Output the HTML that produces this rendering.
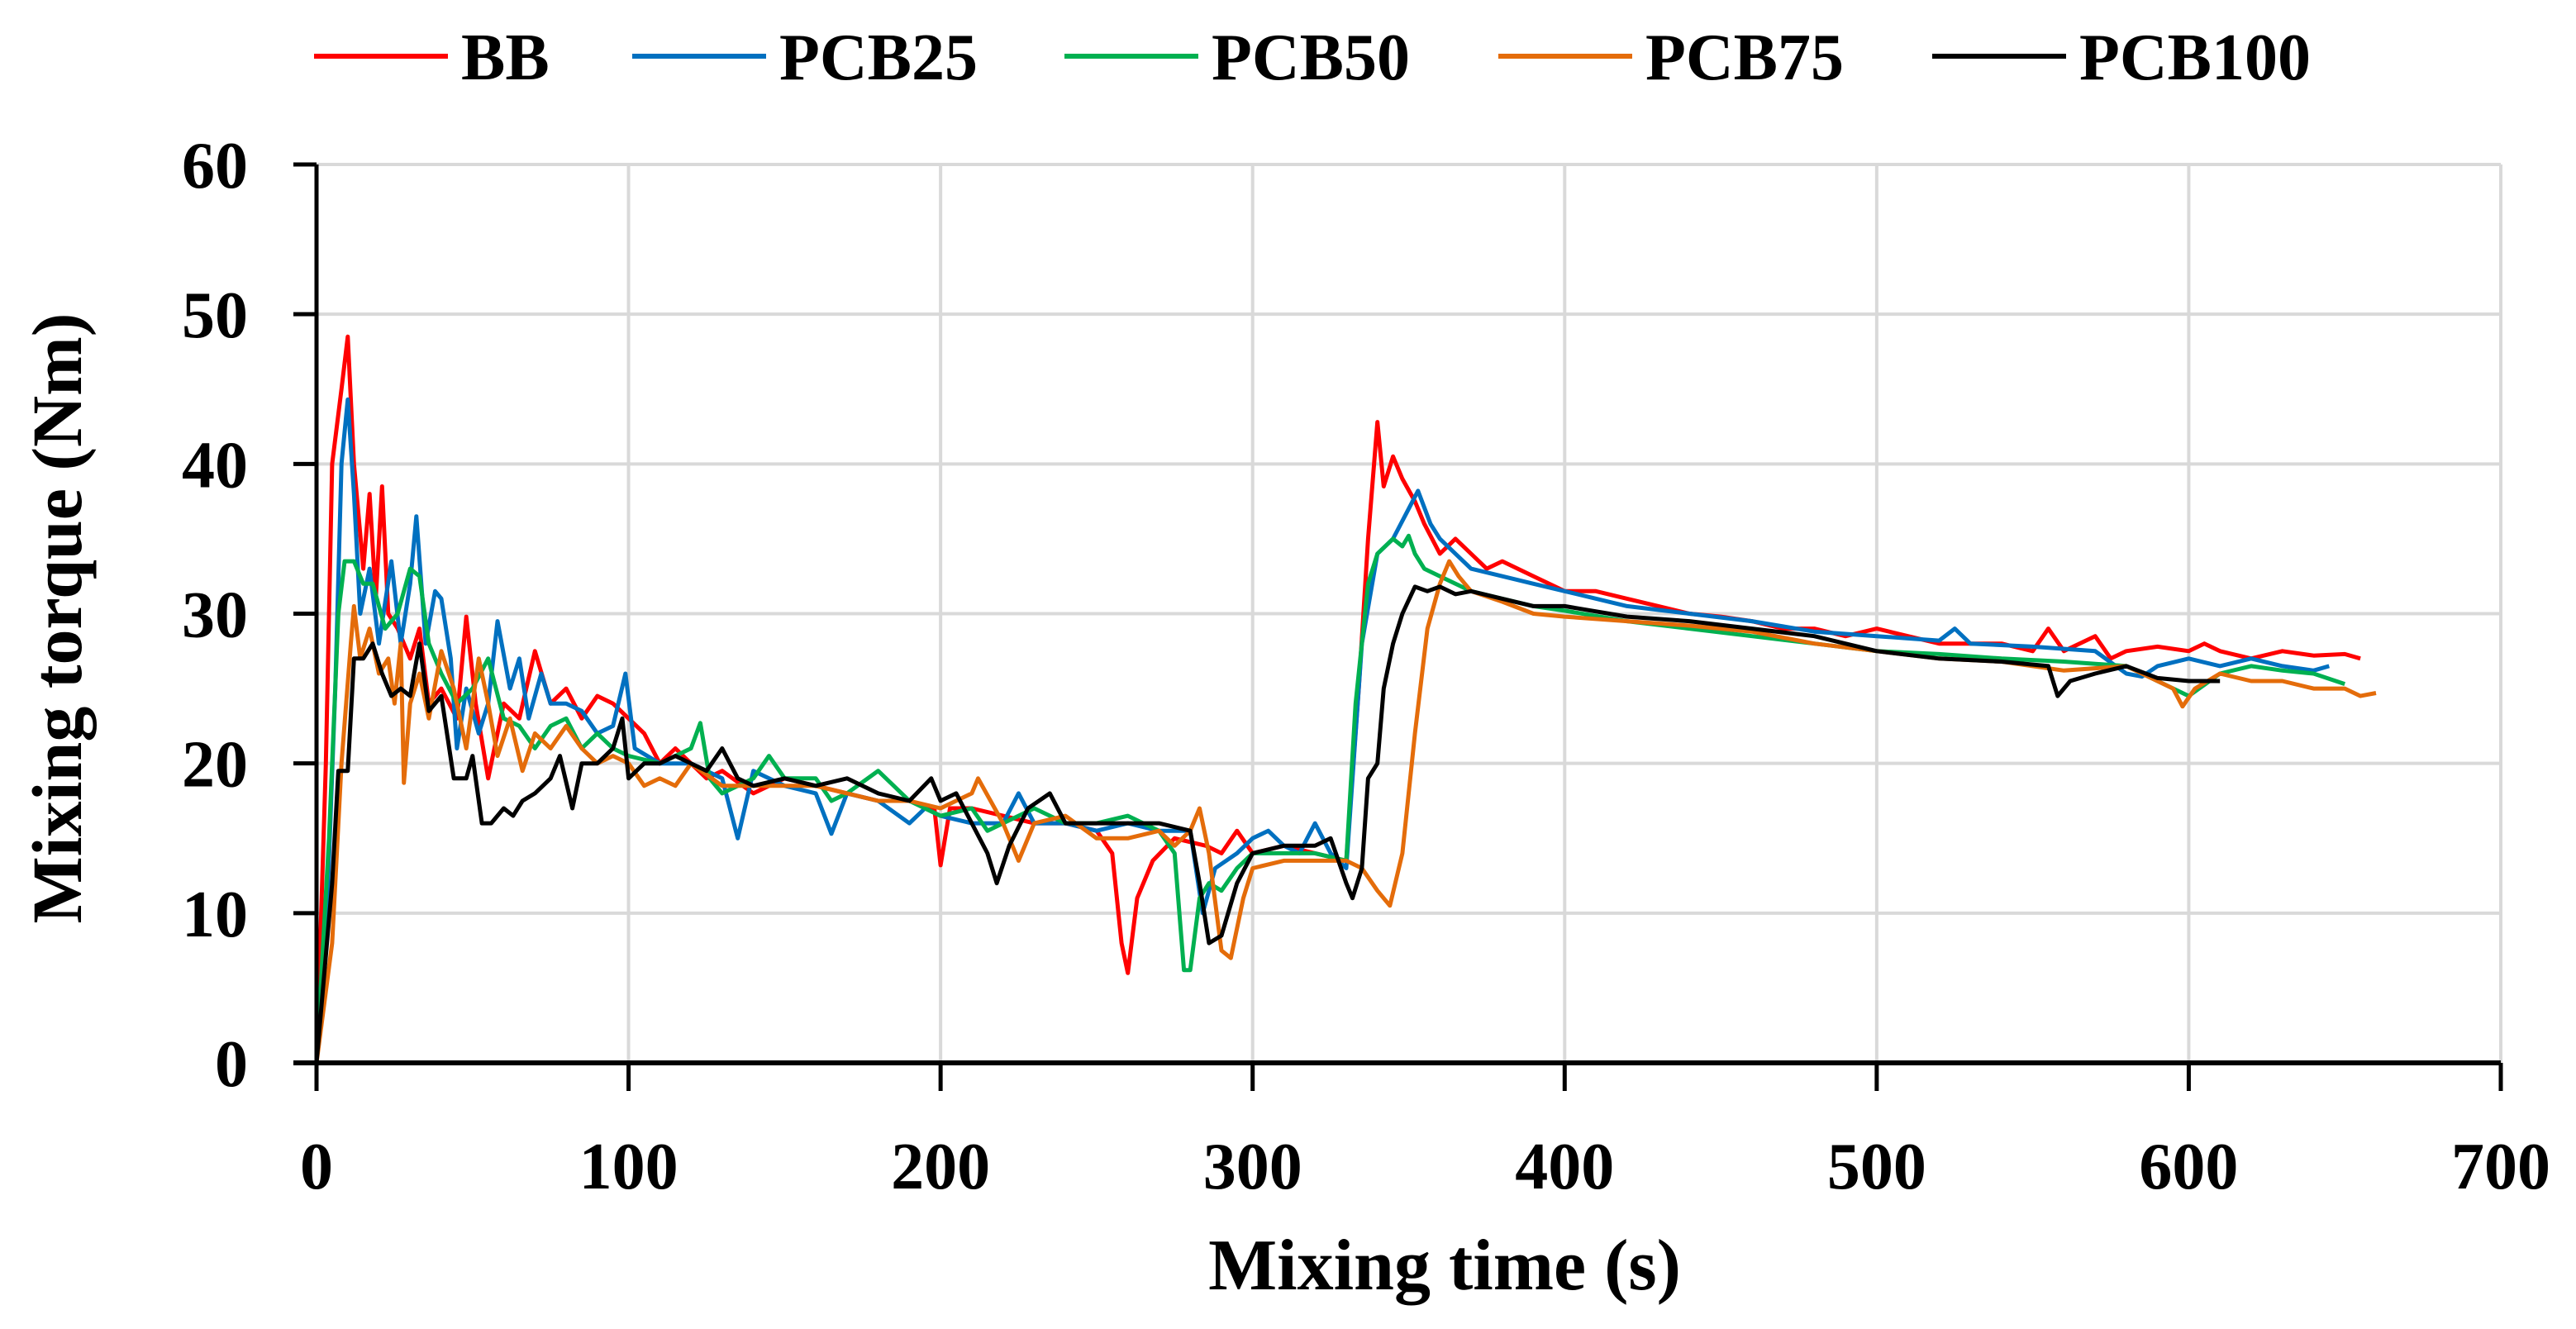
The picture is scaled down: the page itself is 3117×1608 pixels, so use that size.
<!DOCTYPE html>
<html><head><meta charset="utf-8"><style>
html,body{margin:0;padding:0;background:#fff;}
svg{display:block;}
text{font-family:"Liberation Serif",serif;font-weight:bold;fill:#000;}
</style></head><body>
<svg id="chart" width="3117" height="1608" viewBox="0 0 3117 1608" xmlns="http://www.w3.org/2000/svg">
<g id="grid"></g>
<g id="series"></g>
<g id="axes"></g>
<g id="legend"></g>
<text x="0" y="0" font-size="86" text-anchor="middle" transform="translate(98,748) rotate(-90)">Mixing torque (Nm)</text>
<text x="1748" y="1560" font-size="88" text-anchor="middle">Mixing time (s)</text>
</svg>
<script>
const xTicks=[0,100,200,300,400,500,600,700];
const yTicks=[0,10,20,30,40,50,60];
const seriesNames=["BB","PCB25","PCB50","PCB75","PCB100"];
const seriesColors=["#ff0000","#0070c0","#00b050","#e46c0a","#000000"];
const bbData=[[0,0],[3,20],[5,40],[8,45],[10,48.5],[12,40],[15,33],[17,38],[19,31],[21,38.5],[23,30],[26,29],[30,27],[33,29],[36,24],[40,25],[45,23],[48,29.8],[51,24],[55,19],[60,24],[65,23],[70,27.5],[75,24],[80,25],[85,23],[90,24.5],[95,24],[100,23],[105,22],[110,20],[115,21],[120,20],[125,19],[130,19.5],[140,18],[150,19],[160,18.5],[170,18],[180,17.5],[190,17.5],[198,17],[200,13.2],[203,17],[210,17],[220,16.5],[230,16],[240,16],[250,15.5],[255,14],[258,8],[260,6],[263,11],[268,13.5],[275,15],[285,14.5],[290,14],[295,15.5],[300,14],[310,14.5],[320,14],[330,13.5],[334,25],[337,35],[340,42.8],[342,38.5],[345,40.5],[348,39],[352,37.5],[355,36],[360,34],[365,35],[370,34],[375,33],[380,33.5],[390,32.5],[400,31.5],[410,31.5],[420,31],[430,30.5],[440,30],[450,29.8],[460,29.5],[470,29],[480,29],[490,28.5],[500,29],[510,28.5],[520,28],[530,28],[540,28],[550,27.5],[555,29],[560,27.5],[570,28.5],[575,27],[580,27.5],[590,27.8],[600,27.5],[605,28],[610,27.5],[620,27],[630,27.5],[640,27.2],[650,27.3],[655,27]];
const pcb25Data=[[0,0],[3,8],[6,25],[8,40],[10,44.3],[12,38],[14,30],[17,33],[20,28],[24,33.5],[27,28],[30,32],[32,36.5],[35,28],[38,31.5],[40,31],[43,27],[45,21],[48,25],[52,22],[55,24],[58,29.5],[62,25],[65,27],[68,23],[72,26],[75,24],[80,24],[85,23.5],[90,22],[95,22.5],[99,26],[102,21],[110,20],[120,20],[130,19],[135,15],[140,19.5],[150,18.5],[160,18],[165,15.3],[170,18],[180,17.5],[190,16],[195,17],[200,16.5],[210,16],[220,16],[225,18],[230,16],[240,16],[250,15.5],[260,16],[270,15.5],[280,15.5],[284,10],[288,13],[295,14],[300,15],[305,15.5],[310,14.5],[315,14],[320,16],[325,14],[330,13],[335,28],[340,34],[345,35],[350,37],[353,38.2],[357,36],[360,35],[365,34],[370,33],[380,32.5],[390,32],[400,31.5],[420,30.5],[440,30],[460,29.5],[480,28.8],[500,28.5],[520,28.2],[525,29],[530,28],[550,27.8],[570,27.5],[580,26],[585,25.8],[590,26.5],[600,27],[610,26.5],[620,27],[630,26.5],[640,26.2],[645,26.5]];
const pcb50Data=[[0,0],[4,15],[7,30],[9,33.5],[12,33.5],[15,32],[18,32],[22,29],[26,30],[30,33],[33,32.5],[36,28],[40,26],[45,24],[50,25],[55,27],[60,23],[65,22.5],[70,21],[75,22.5],[80,23],[85,21],[90,22],[95,21],[100,20.5],[110,20],[120,21],[123,22.7],[126,19],[130,18],[140,19],[145,20.5],[150,19],[160,19],[165,17.5],[170,18],[180,19.5],[190,17.5],[200,16.5],[210,17],[215,15.5],[220,16],[230,17],[240,16],[250,16],[260,16.5],[270,15.5],[275,14],[278,6.2],[280,6.2],[283,11],[286,12],[290,11.5],[295,13],[300,14],[310,14],[320,14],[330,13.5],[333,24],[337,32],[340,34],[345,35],[348,34.5],[350,35.2],[352,34],[355,33],[360,32.5],[365,32],[370,31.5],[380,31],[390,30.5],[400,30.2],[420,29.5],[440,29],[460,28.5],[480,28],[500,27.5],[520,27.3],[540,27],[560,26.8],[580,26.5],[590,25.5],[600,24.5],[610,26],[620,26.5],[630,26.2],[640,26],[650,25.3]];
const pcb75Data=[[0,0],[5,8],[8,20],[11,28],[12,30.5],[14,27],[17,29],[20,26],[23,27],[25,24],[27,28],[28,18.7],[30,24],[33,26],[36,23],[40,27.5],[44,25],[48,21],[52,27],[55,24],[58,20.5],[62,23],[66,19.5],[70,22],[75,21],[80,22.5],[85,21],[90,20],[95,20.5],[100,20],[105,18.5],[110,19],[115,18.5],[120,20],[130,18.5],[140,18.5],[150,18.5],[160,18.5],[170,18],[180,17.5],[190,17.5],[200,17],[210,18],[212,19],[220,16],[225,13.5],[230,16],[240,16.5],[250,15],[260,15],[270,15.5],[275,14.5],[280,15.5],[283,17],[286,14],[290,7.5],[293,7],[297,11],[300,13],[310,13.5],[320,13.5],[330,13.5],[335,13],[340,11.5],[344,10.5],[348,14],[352,22],[356,29],[360,32],[363,33.5],[366,32.5],[370,31.5],[380,30.8],[390,30],[400,29.8],[420,29.5],[440,29.2],[460,28.8],[480,28],[500,27.5],[520,27],[540,26.8],[560,26.2],[580,26.5],[595,25],[598,23.8],[602,25],[610,26],[620,25.5],[630,25.5],[640,25],[650,25],[655,24.5],[660,24.7]];
const pcb100Data=[[0,0],[5,12],[7,19.5],[10,19.5],[12,27],[15,27],[18,28],[21,26],[24,24.5],[27,25],[30,24.5],[33,28],[36,23.5],[40,24.5],[44,19],[48,19],[50,20.5],[53,16],[56,16],[60,17],[63,16.5],[66,17.5],[70,18],[75,19],[78,20.5],[82,17],[85,20],[90,20],[95,21],[98,23],[100,19],[105,20],[110,20],[115,20.5],[120,20],[125,19.5],[130,21],[135,19],[140,18.5],[150,19],[160,18.5],[170,19],[180,18],[190,17.5],[197,19],[200,17.5],[205,18],[210,16],[215,14],[218,12],[222,14.5],[228,17],[235,18],[240,16],[250,16],[260,16],[270,16],[280,15.5],[283,12],[286,8],[290,8.5],[295,12],[300,14],[310,14.5],[320,14.5],[325,15],[330,12],[332,11],[335,13],[337,19],[340,20],[342,25],[345,28],[348,30],[352,31.8],[356,31.5],[360,31.8],[365,31.3],[370,31.5],[380,31],[390,30.5],[400,30.5],[420,29.8],[440,29.5],[460,29],[480,28.5],[500,27.5],[520,27],[540,26.8],[555,26.5],[558,24.5],[562,25.5],[570,26],[580,26.5],[590,25.7],[600,25.5],[610,25.5]];
const allData=[bbData,pcb25Data,pcb50Data,pcb75Data,pcb100Data];

const NS="http://www.w3.org/2000/svg";
const X0=383,X1=3026,Y0=1286,Y1=199;
function xScale(v){return X0+(v-0)/(700-0)*(X1-X0);}
function yScale(v){return Y0-(v-0)/(60-0)*(Y0-Y1);}
function mk(tag,parent){const e=document.createElementNS(NS,tag);parent.appendChild(e);return e;}
const grid=document.getElementById('grid'),axes=document.getElementById('axes'),ser=document.getElementById('series'),leg=document.getElementById('legend');

yTicks.forEach(t=>{
  if(t>0){const l=mk('line',grid);
  
  
  l.setAttribute('x1',X0);l.setAttribute('x2',X1);l.setAttribute('y1',yScale(t));l.setAttribute('y2',yScale(t));l.setAttribute('stroke','#d9d9d9');l.setAttribute('stroke-width','4');}
  const tk=mk('line',axes);
  
  
  tk.setAttribute('x1',X0-28);tk.setAttribute('x2',X0);tk.setAttribute('y1',yScale(t));tk.setAttribute('y2',yScale(t));tk.setAttribute('stroke','#000');tk.setAttribute('stroke-width','5');
  const tx=mk('text',axes);
  
  
  tx.setAttribute('x',300);tx.setAttribute('y',yScale(t)+28);tx.setAttribute('font-size','80');tx.setAttribute('text-anchor','end');tx.textContent=t;
});
xTicks.forEach(t=>{
  if(t>0){const l=mk('line',grid);
  
  
  l.setAttribute('x1',xScale(t));l.setAttribute('x2',xScale(t));l.setAttribute('y1',Y1);l.setAttribute('y2',Y0);l.setAttribute('stroke','#d9d9d9');l.setAttribute('stroke-width','4');}
  const tk=mk('line',axes);
  
  
  tk.setAttribute('x1',xScale(t));tk.setAttribute('x2',xScale(t));tk.setAttribute('y1',Y0);tk.setAttribute('y2',Y0+34);tk.setAttribute('stroke','#000');tk.setAttribute('stroke-width','5');
  const tx=mk('text',axes);
  
  
  tx.setAttribute('x',xScale(t));tx.setAttribute('y',1438);tx.setAttribute('font-size','80');tx.setAttribute('text-anchor','middle');tx.textContent=t;
});
const ya=mk('line',axes);


ya.setAttribute('x1',X0);ya.setAttribute('x2',X0);ya.setAttribute('y1',Y1);ya.setAttribute('y2',Y0);ya.setAttribute('stroke','#000');ya.setAttribute('stroke-width','5');
const xa=mk('line',axes);


xa.setAttribute('x1',X0-28);xa.setAttribute('x2',X1);xa.setAttribute('y1',Y0);xa.setAttribute('y2',Y0);xa.setAttribute('stroke','#000');xa.setAttribute('stroke-width','6');

allData.forEach((d,i)=>{
  const p=mk('path',ser);
  
  
  p.setAttribute('d',d.map((pt,j)=>(j?'L':'M')+xScale(pt[0]).toFixed(1)+' '+yScale(pt[1]).toFixed(1)).join(' '));
  p.setAttribute('fill','none');p.setAttribute('stroke',seriesColors[i]);p.setAttribute('stroke-width','5');p.setAttribute('stroke-linejoin','round');
});

const legX=[380,765,1288,1813,2338];
seriesNames.forEach((n,i)=>{
  const g=mk('g',leg);
  
  
  const l=mk('line',g);
  
  
  l.setAttribute('x1',legX[i]);l.setAttribute('x2',legX[i]+162);l.setAttribute('y1',68);l.setAttribute('y2',68);l.setAttribute('stroke',seriesColors[i]);l.setAttribute('stroke-width','6');
  const t=mk('text',g);
  
  
  t.setAttribute('x',legX[i]+178);t.setAttribute('y',96);t.setAttribute('font-size','80');t.textContent=n;
});
</script>
</body></html>
